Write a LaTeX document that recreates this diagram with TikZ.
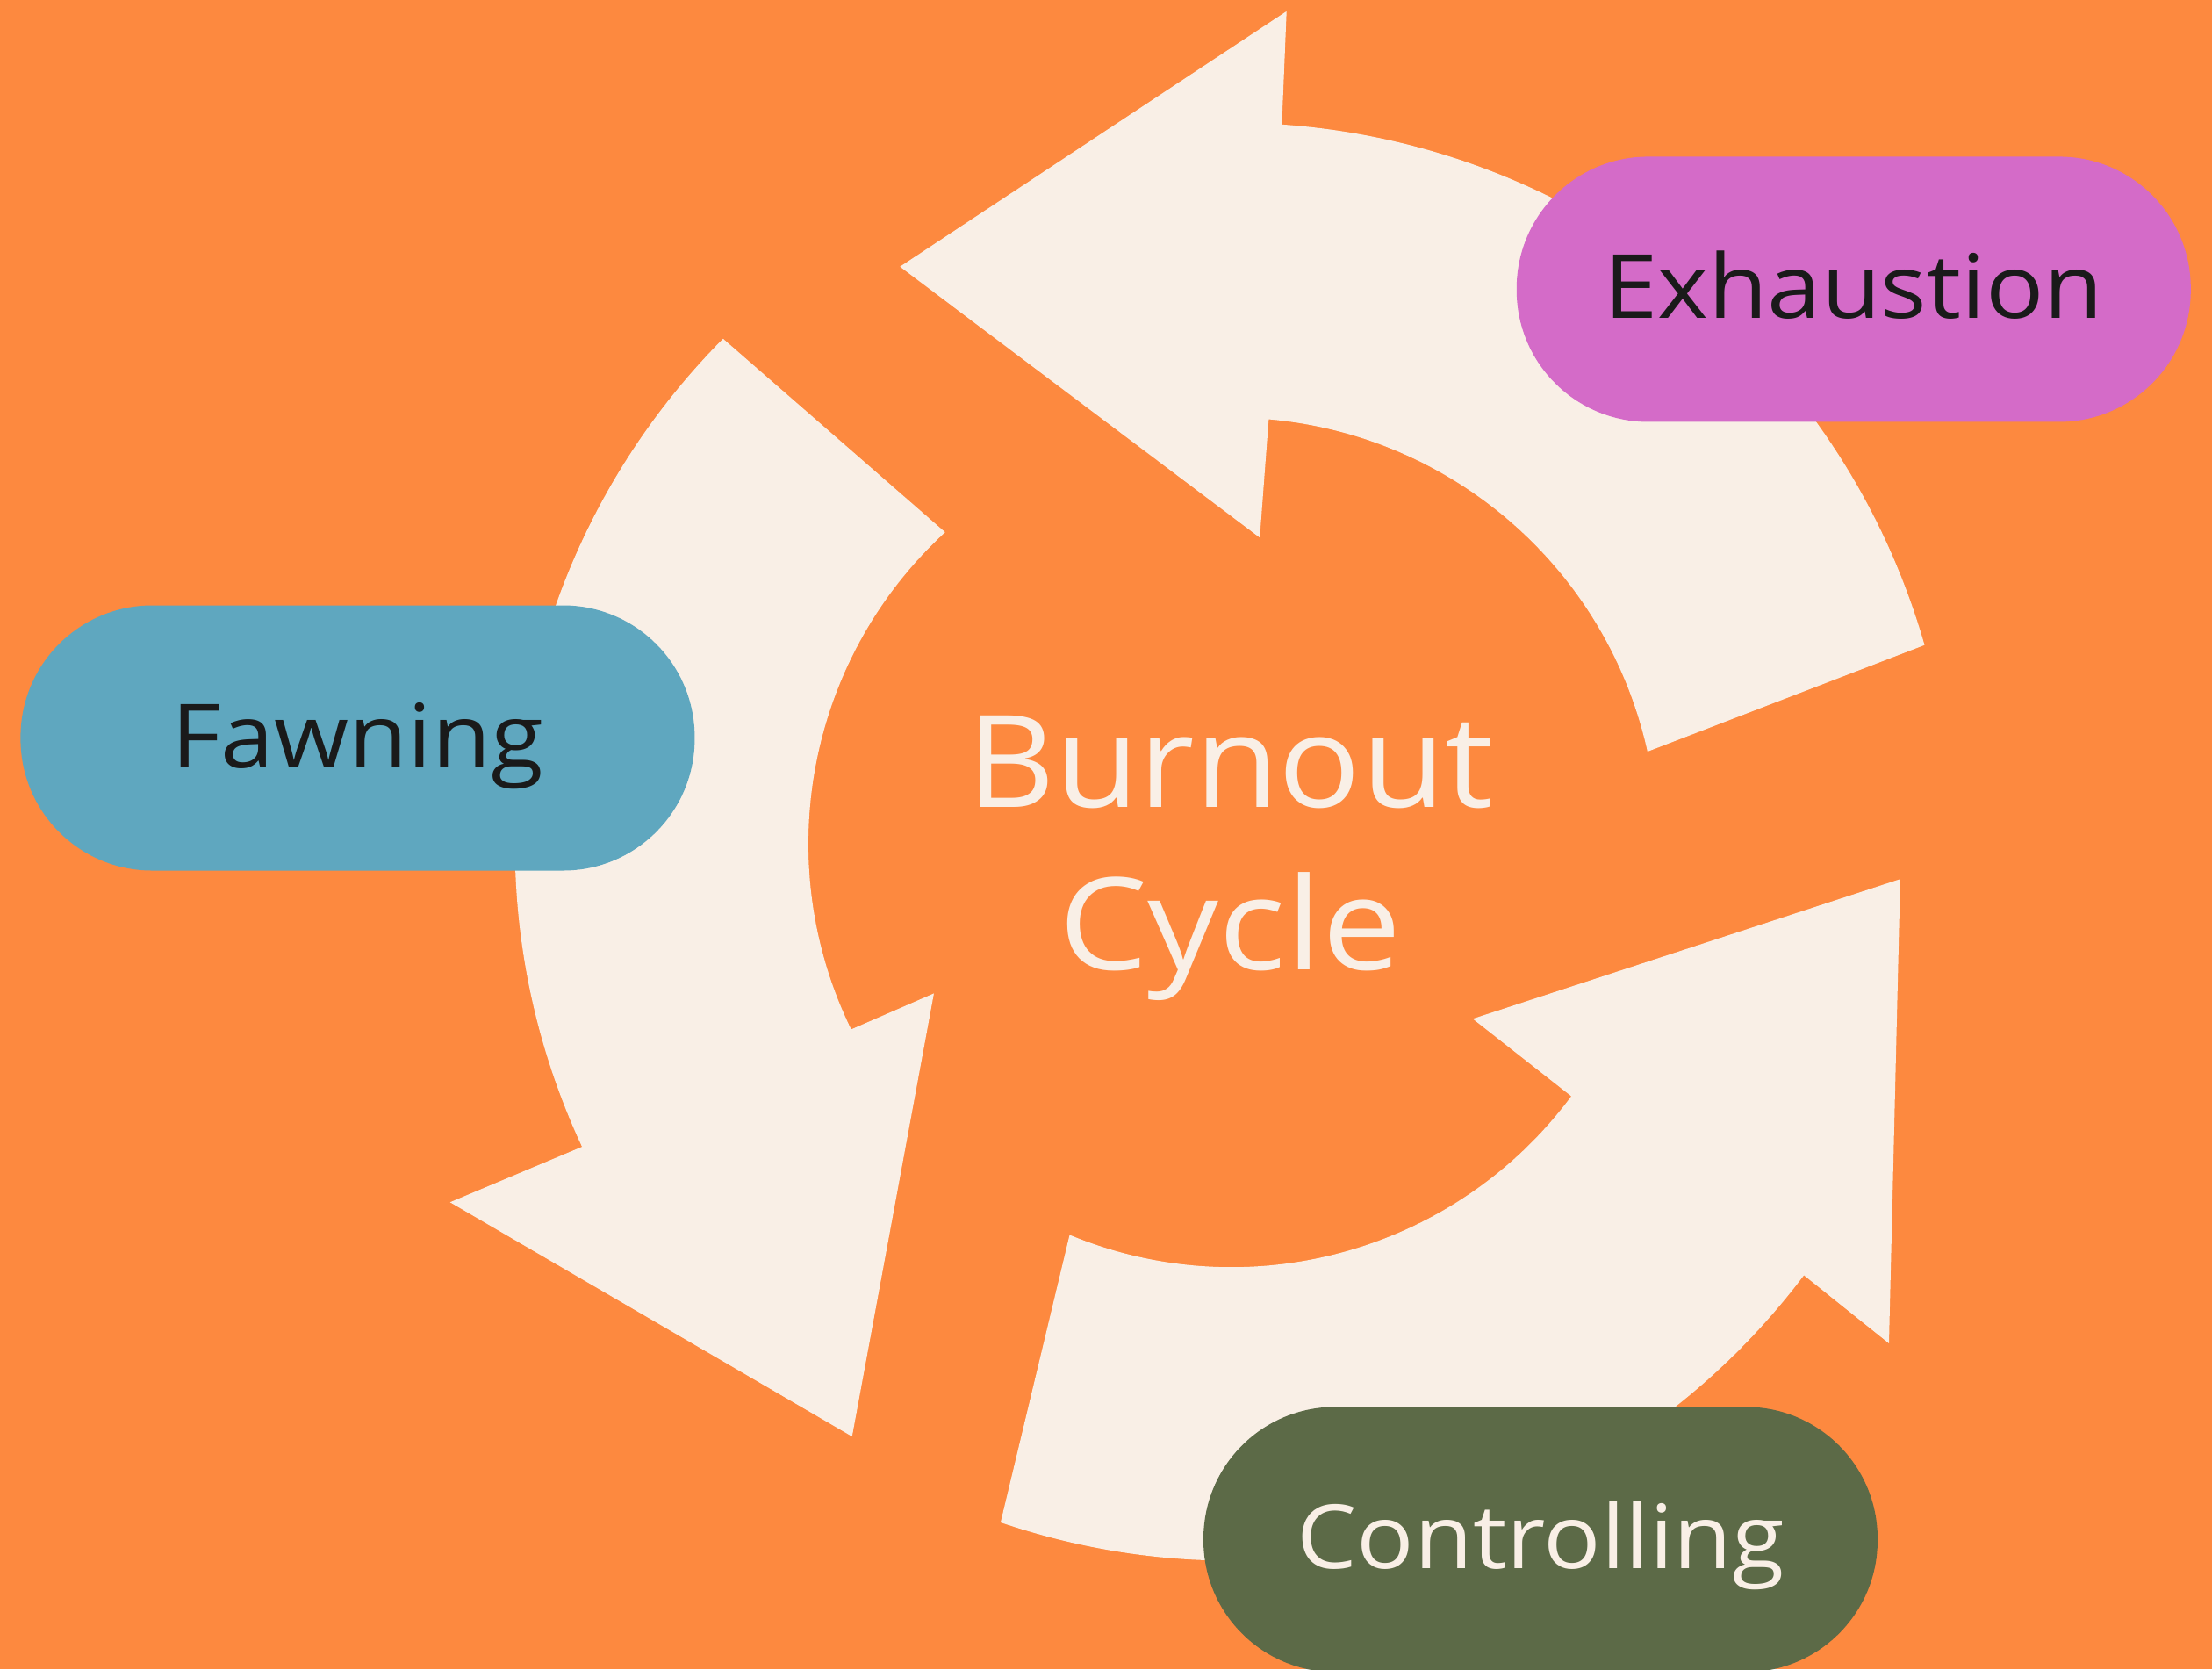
\documentclass[tikz,border=0pt]{standalone}
\usepackage{fontspec}
\usepackage{graphicx}
\newfontfamily\lblfont{Open Sans}
\definecolor{bgorange}{HTML}{FD893F}
\definecolor{cream}{HTML}{F9EFE6}
\definecolor{pillpink}{HTML}{D46BC8}
\definecolor{pillblue}{HTML}{5FA7BF}
\definecolor{pillgreen}{HTML}{5C6A47}
\definecolor{ink}{HTML}{1A1A1A}
\begin{document}
\begin{tikzpicture}[x=1.60714pt, y=1.60714pt,
  pill/.style={rectangle, rounded corners=150pt, minimum width=768pt, minimum height=302pt,
    inner sep=0pt, text height=72pt, text depth=5pt, font=\lblfont\fontsize{101}{101}\selectfont},
  band/.style={fill=cream}]
\fill[bgorange] (0,0) rectangle (1568,1183);
\useasboundingbox (0,0) rectangle (1568,1183);
\clip (0,0) rectangle (1568,1183);
\coordinate (C) at (873,585);
% top arrow (towards Fawning)
\fill[band] ([shift={(12.5:302)}]C) arc[start angle=12.5, end angle=85, radius=302]
  -- (893,802) -- (638,994) -- (912,1175)
  -- ([shift={(86:511)}]C) arc[start angle=86, end angle=16, radius=511] -- cycle;
% left arrow (towards Controlling)
\fill[band] ([shift={(132.6:300)}]C) arc[start angle=132.6, end angle=206, radius=300]
  -- (662,479) -- (604,165) -- (319,331)
  -- ([shift={(205:508)}]C) arc[start angle=205, end angle=135.2, radius=508] -- cycle;
% bottom arrow (towards Exhaustion)
\fill[band] ([shift={(247.5:300)}]C) arc[start angle=247.5, end angle=323.4, radius=300]
  -- (1044,461) -- (1347,560) -- (1339,231)
  -- ([shift={(323:508)}]C) arc[start angle=323, end angle=251.2, radius=508] -- cycle;
% pills
\node[pill, fill=pillpink, text=ink] (exh) at (1314,978)
  {\resizebox{569pt}{\height}{Exhaustion}};
\node[pill, fill=pillblue, text=ink] (fawn) at (253.5,660)
  {\resizebox{424pt}{\height}{Fawning}};
\node[pill, fill=pillgreen, text=cream] (ctrl) at (1092,92)
  {\resizebox{556pt}{\height}{Controlling}};
% title
\node[font=\lblfont\fontsize{146}{185}\selectfont, text=cream, align=center, anchor=north, inner sep=0pt]
  (title) at (872,676) {\resizebox{600pt}{\height}{Burnout}\\\resizebox{390pt}{\height}{Cycle}};
\end{tikzpicture}
\end{document}
